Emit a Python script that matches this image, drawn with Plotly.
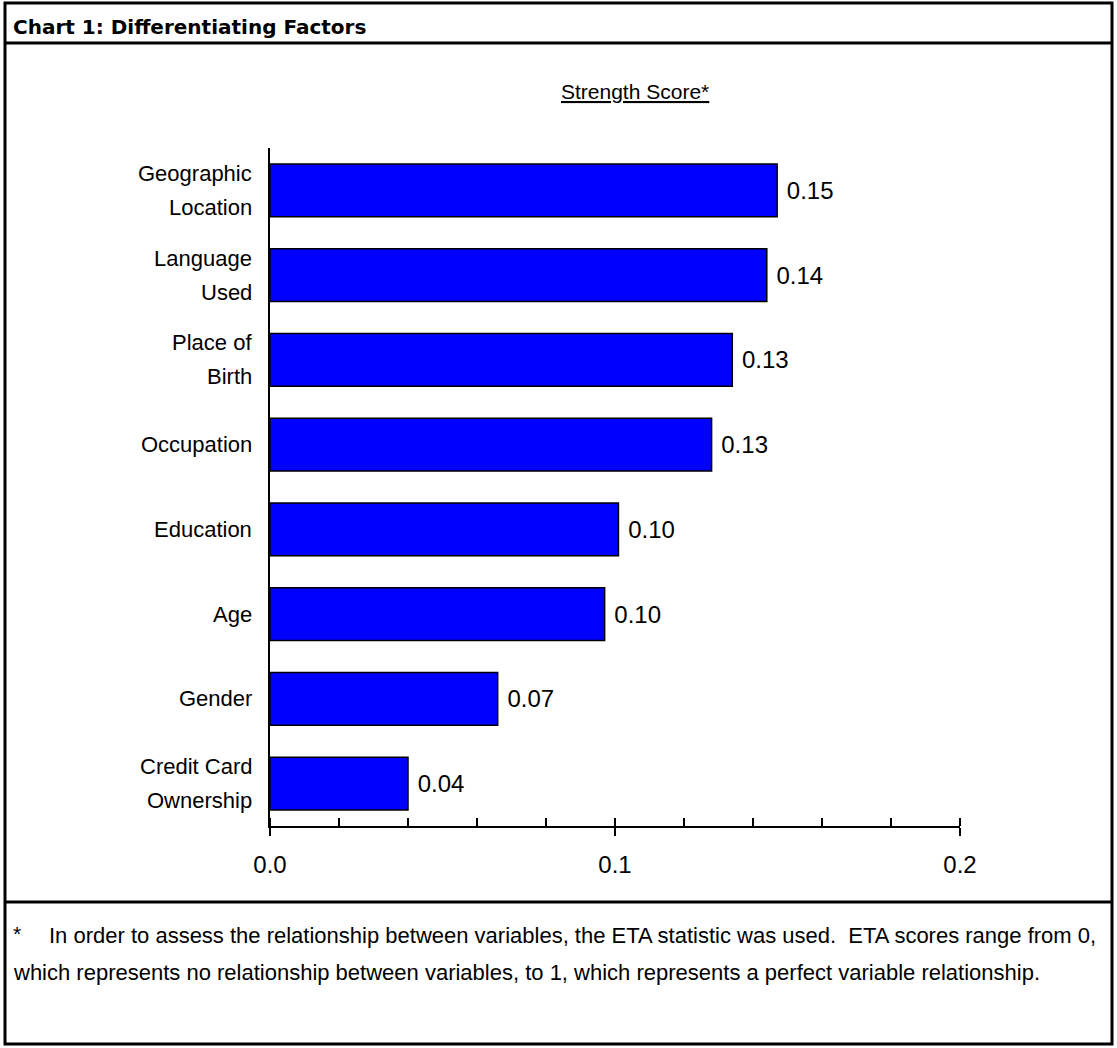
import plotly.graph_objects as go

# Factors and their ETA strength scores
factors = [
    "Geographic<br>Location",
    "Language<br>Used",
    "Place of<br>Birth",
    "Occupation",
    "Education",
    "Age",
    "Gender",
    "Credit Card<br>Ownership",
]
strength = [0.147, 0.144, 0.134, 0.128, 0.101, 0.097, 0.066, 0.040]

x_tick_vals = [0.0, 0.1, 0.2]
x_tick_text = ["0.0", "0.1", "0.2"]

chart_title = "Chart 1: Differentiating Factors"
axis_title = "Strength Score*"
footnote_mark = "*"
footnote_lines = [
    "In order to assess the relationship between variables, the ETA statistic was used.  ETA scores range from 0,",
    "which represents no relationship between variables, to 1, which represents a perfect variable relationship.",
]

# Page geometry (pixels) and conversion to paper coordinates
W, H = 1117, 1048
L, R, T, B = 270, 157, 148, 222


def fx(px):
    return (px - L) / (W - L - R)


def fy(py):
    return (H - B - py) / (H - T - B)


FONT = "Arial, Liberation Sans, sans-serif"

fig = go.Figure()
fig.add_trace(
    go.Bar(
        x=strength,
        y=factors,
        orientation="h",
        marker=dict(color="#0000FF", line=dict(color="#000000", width=1.5)),
        texttemplate=" %{x:.2f}",
        textposition="outside",
        textfont=dict(family=FONT, size=24, color="#000000"),
        cliponaxis=False,
        hoverinfo="skip",
    )
)

# Second x axis only draws the upward half of the major ticks
fig.add_trace(go.Scatter(x=[], y=[], xaxis="x2", showlegend=False))

annotations = []

# Category labels, one text line per row of the label
for name in factors:
    lines = name.split("<br>")
    n = len(lines)
    for j, line in enumerate(lines):
        annotations.append(
            dict(
                text=line,
                xref="paper",
                yref="y",
                x=0,
                y=name,
                xanchor="right",
                yanchor="middle",
                xshift=-16,
                yshift=17 * (n - 1) - 34 * j,
                showarrow=False,
                font=dict(family=FONT, size=22, color="#000000"),
            )
        )

annotations += [
    dict(
        text="<b>" + chart_title + "</b>",
        xref="paper", yref="paper", x=fx(11), y=fy(27),
        xanchor="left", yanchor="middle", showarrow=False,
        font=dict(family="DejaVu Sans, sans-serif", size=20, color="#000000"),
    ),
    dict(
        text="<u>" + axis_title + "</u>",
        xref="paper", yref="paper", x=fx(635), y=fy(92),
        xanchor="center", yanchor="middle", showarrow=False,
        font=dict(family=FONT, size=21, color="#000000"),
    ),
    dict(
        text=footnote_mark,
        xref="paper", yref="paper", x=fx(11), y=fy(933),
        xanchor="left", yanchor="middle", showarrow=False,
        font=dict(family=FONT, size=21, color="#000000"),
    ),
    dict(
        text=footnote_lines[0],
        xref="paper", yref="paper", x=fx(47), y=fy(935),
        xanchor="left", yanchor="middle", showarrow=False,
        font=dict(family=FONT, size=22, color="#000000"),
    ),
    dict(
        text=footnote_lines[1],
        xref="paper", yref="paper", x=fx(11), y=fy(972),
        xanchor="left", yanchor="middle", showarrow=False,
        font=dict(family=FONT, size=22, color="#000000"),
    ),
]

frame = dict(color="#000000", width=3)
shapes = [
    dict(type="rect", xref="paper", yref="paper",
         x0=fx(5), x1=fx(1112), y0=fy(3), y1=fy(1044), line=frame, layer="above"),
    dict(type="line", xref="paper", yref="paper",
         x0=fx(5), x1=fx(1112), y0=fy(43), y1=fy(43), line=frame),
    dict(type="line", xref="paper", yref="paper",
         x0=fx(5), x1=fx(1112), y0=fy(902), y1=fy(902), line=frame),
]

fig.update_layout(
    width=W,
    height=H,
    margin=dict(l=L, r=R, t=T, b=B, pad=0),
    paper_bgcolor="#FFFFFF",
    plot_bgcolor="#FFFFFF",
    showlegend=False,
    bargap=0.375,
    font=dict(family=FONT, color="#000000"),
    annotations=annotations,
    shapes=shapes,
    xaxis=dict(
        range=[0, 0.2],
        tickvals=x_tick_vals,
        ticktext=x_tick_text,
        ticks="outside",
        ticklen=8,
        tickwidth=2,
        tickcolor="#000000",
        ticklabelstandoff=8,
        tickfont=dict(family=FONT, size=24, color="#000000"),
        showline=True,
        linewidth=2,
        linecolor="#000000",
        showgrid=False,
        zeroline=False,
        minor=dict(ticks="inside", dtick=0.02, tick0=0, ticklen=8,
                   tickwidth=1.5, tickcolor="#000000", showgrid=False),
    ),
    xaxis2=dict(
        range=[0, 0.2],
        overlaying="x",
        anchor="y",
        side="bottom",
        tickvals=x_tick_vals,
        ticks="inside",
        ticklen=8,
        tickwidth=2,
        tickcolor="#000000",
        showticklabels=False,
        showline=False,
        showgrid=False,
        zeroline=False,
    ),
    yaxis=dict(
        categoryorder="array",
        categoryarray=factors,
        range=[7.5, -0.5],
        showline=True,
        linewidth=2,
        linecolor="#000000",
        ticks="",
        showticklabels=False,
        showgrid=False,
        zeroline=False,
    ),
)

fig.write_html("out.html")
